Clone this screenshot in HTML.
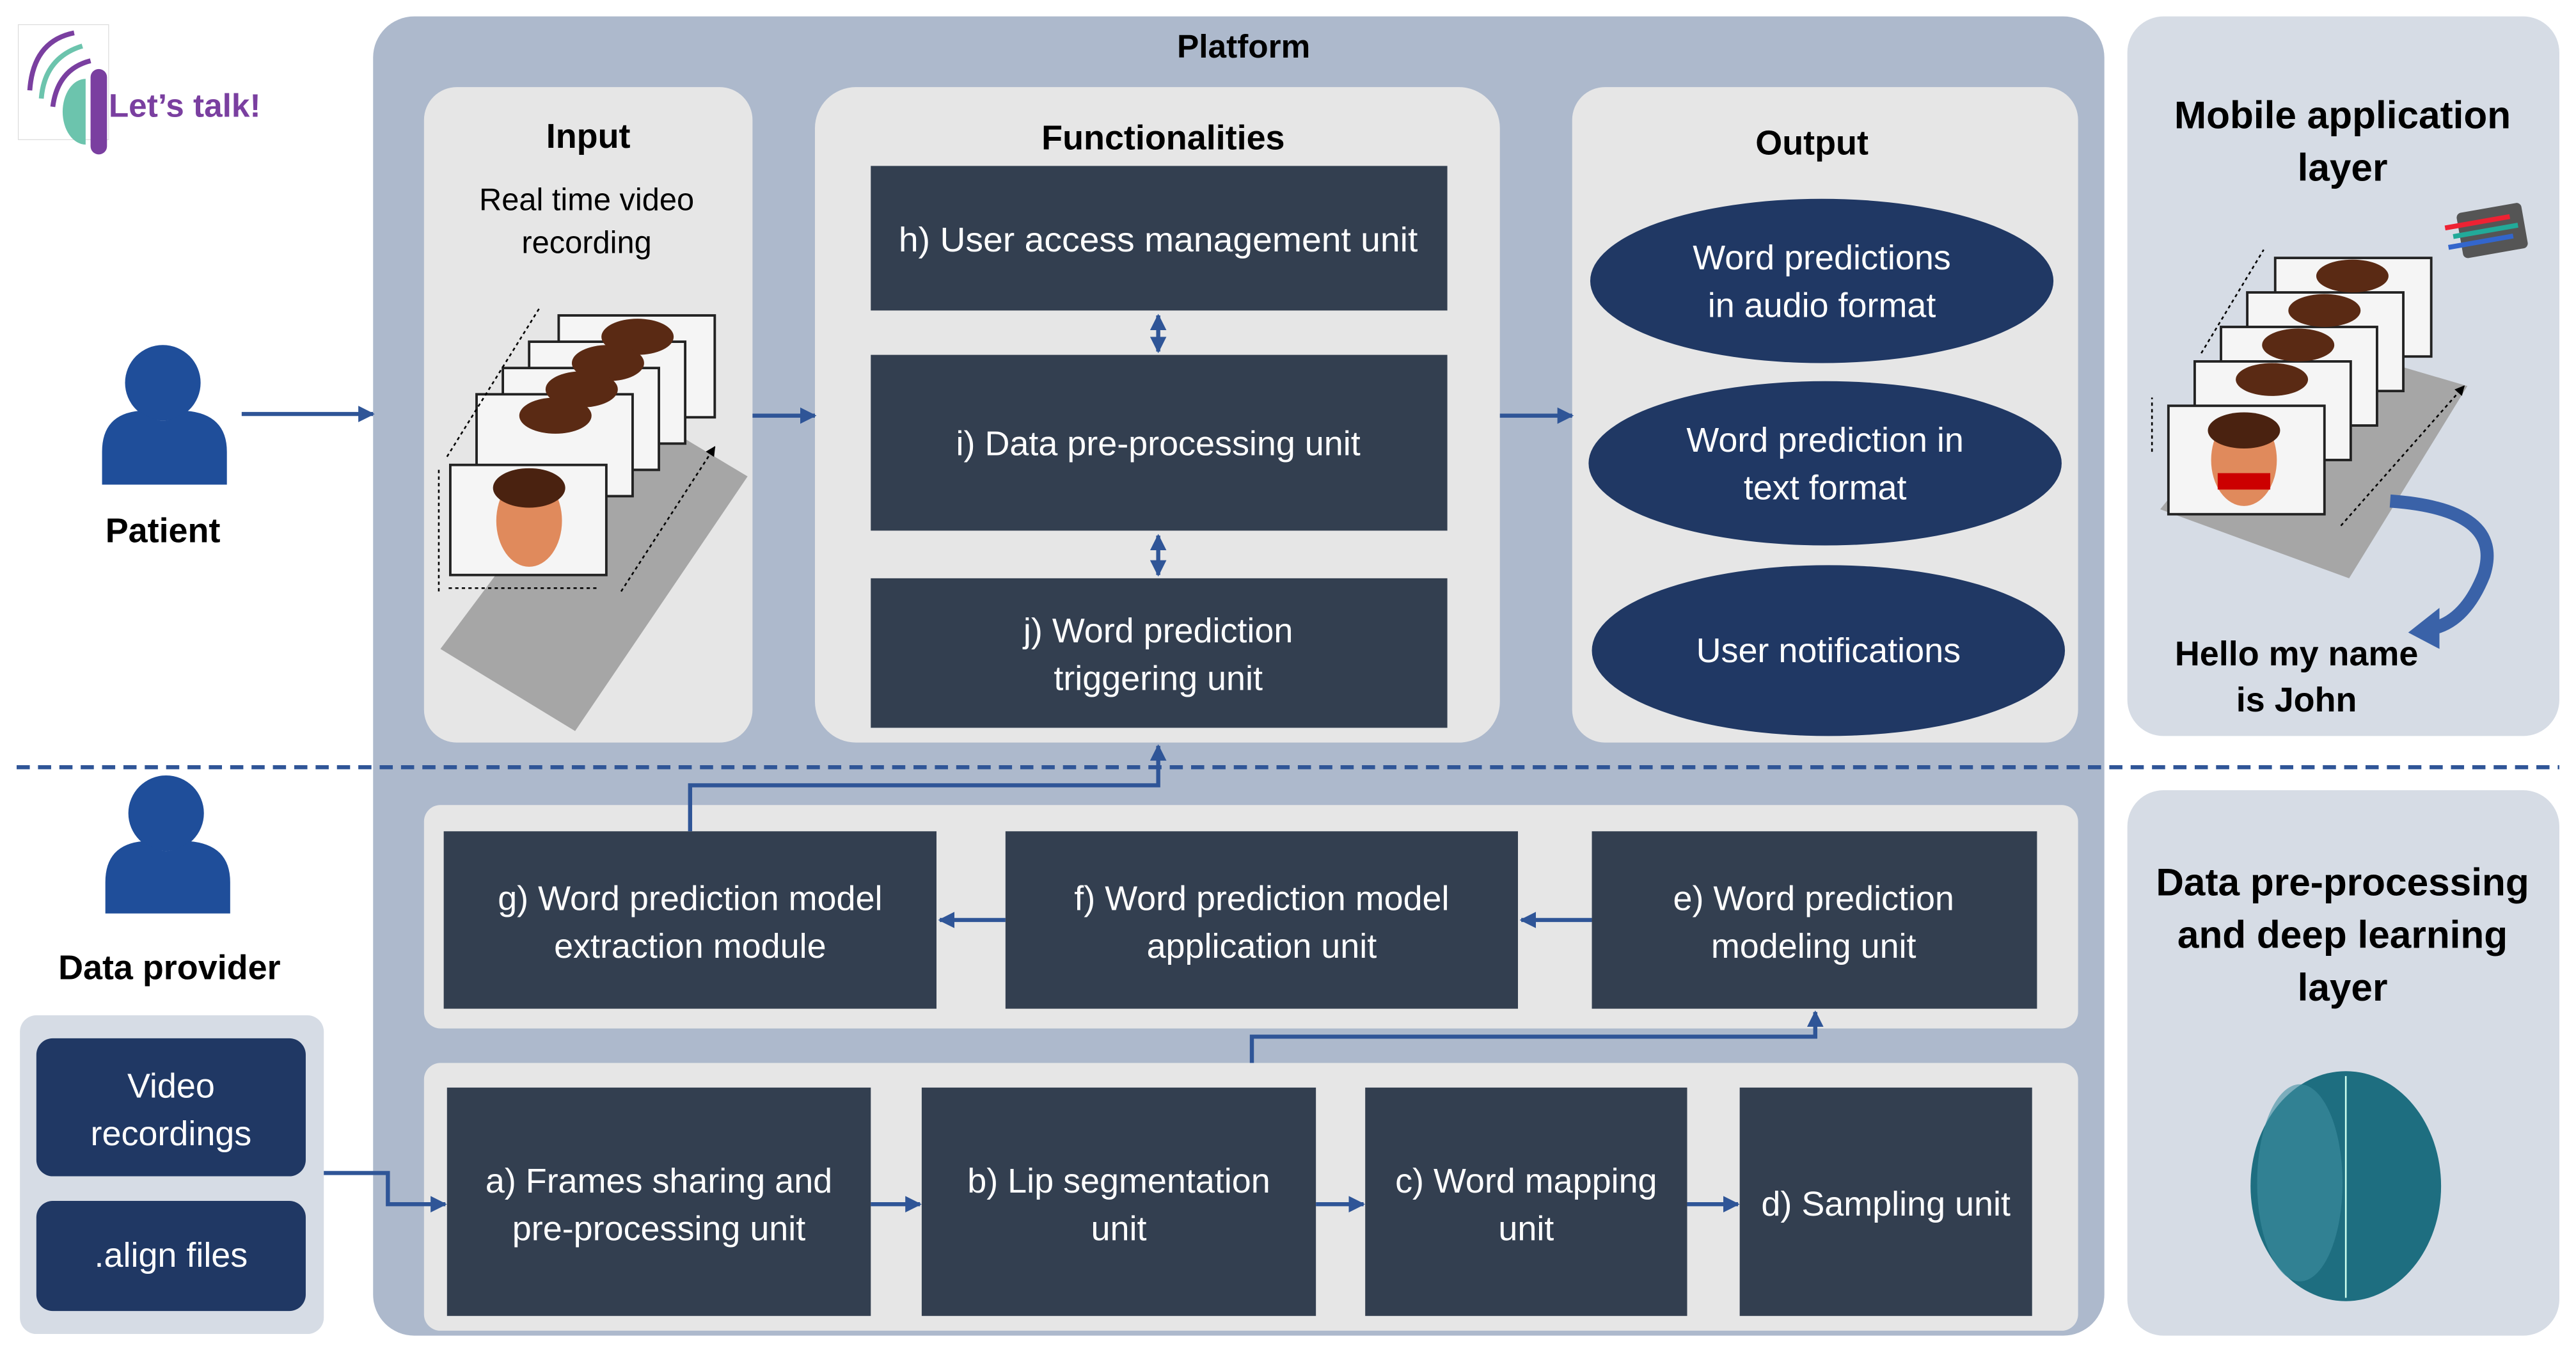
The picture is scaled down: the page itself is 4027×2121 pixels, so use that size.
<!DOCTYPE html>
<html><head><meta charset="utf-8"><style>
html,body{margin:0;padding:0;background:#fff;}
svg{display:block;}
text{font-family:"Liberation Sans",sans-serif;}
</style></head><body>
<svg width="4027" height="2121" viewBox="0 0 1568 826" xmlns="http://www.w3.org/2000/svg">
<defs>
<marker id="ah" viewBox="0 0 10 10" refX="9" refY="5" markerWidth="4" markerHeight="4" orient="auto-start-reverse"><path d="M0,0L10,5L0,10z" fill="#2f5597"/></marker>
<marker id="sa" viewBox="0 0 10 10" refX="9" refY="5" markerWidth="6" markerHeight="6" orient="auto"><path d="M0,0L10,5L0,10z" fill="#000"/></marker>
</defs>
<rect width="1568" height="826" fill="#fff"/>
<!-- logo -->
<rect x="11" y="15" width="55" height="70" fill="#fff" stroke="#ddd" stroke-width="0.5"/>
<path d="M18,55 Q20,25 45,20" stroke="#7a3fa0" stroke-width="3" fill="none"/>
<path d="M25,60 Q27,35 50,28" stroke="#6cc4ad" stroke-width="3" fill="none"/>
<path d="M32,65 Q35,42 55,37" stroke="#7a3fa0" stroke-width="3" fill="none"/>
<path d="M52,48 A14,20 0 0 0 52,88 Z" fill="#6cc4ad"/>
<rect x="55" y="42" width="10" height="52" rx="5" fill="#7a3fa0"/>
<text x="66" y="71" font-size="20" font-weight="bold" fill="#7a3fa0">Let’s talk!</text>
<!-- platform -->
<rect x="227" y="10" width="1054" height="803" rx="25" fill="#adb9cc"/>
<text x="757" y="35" font-size="20" font-weight="bold" text-anchor="middle">Platform</text>
<rect x="1295" y="10" width="263" height="438" rx="22" fill="#d6dce5"/>
<rect x="1295" y="481" width="263" height="332" rx="22" fill="#d6dce5"/>
<rect x="12" y="618" width="185" height="194" rx="10" fill="#d6dce5"/>
<!-- inner panels -->
<rect x="258" y="53" width="200" height="399" rx="20" fill="#e6e6e6"/>
<rect x="496" y="53" width="417" height="399" rx="25" fill="#e6e6e6"/>
<rect x="957" y="53" width="308" height="399" rx="20" fill="#e6e6e6"/>
<rect x="258" y="490" width="1007" height="136" rx="10" fill="#e6e6e6"/>
<rect x="258" y="647" width="1007" height="163" rx="10" fill="#e6e6e6"/>
<!-- titles -->
<text x="358" y="90" font-size="21" font-weight="bold" text-anchor="middle">Input</text>
<text x="357" y="128" font-size="19" text-anchor="middle">Real time video</text>
<text x="357" y="154" font-size="19" text-anchor="middle">recording</text>
<text x="708" y="91" font-size="21" font-weight="bold" text-anchor="middle">Functionalities</text>
<text x="1103" y="94" font-size="21" font-weight="bold" text-anchor="middle">Output</text>
<text x="1426" y="78" font-size="23.5" font-weight="bold" text-anchor="middle">Mobile application</text>
<text x="1426" y="110" font-size="23.5" font-weight="bold" text-anchor="middle">layer</text>
<text x="1426" y="545" font-size="23.5" font-weight="bold" text-anchor="middle">Data pre-processing</text>
<text x="1426" y="577" font-size="23.5" font-weight="bold" text-anchor="middle">and deep learning</text>
<text x="1426" y="609" font-size="23.5" font-weight="bold" text-anchor="middle">layer</text>
<text x="1398" y="405" font-size="21" font-weight="bold" text-anchor="middle">Hello my name</text>
<text x="1398" y="433" font-size="21" font-weight="bold" text-anchor="middle">is John</text>
<!-- persons -->
<circle cx="99" cy="233" r="23" fill="#1f4e9a"/>
<path d="M62,295 L62,275 Q62,252 85,250 Q99,262 113,250 Q138,252 138,275 L138,295 Z" fill="#1f4e9a"/>
<text x="99" y="330" font-size="21" font-weight="bold" text-anchor="middle">Patient</text>
<circle cx="101" cy="495" r="23" fill="#1f4e9a"/>
<path d="M64,556 L64,537 Q64,514 87,512 Q101,524 115,512 Q140,514 140,537 L140,556 Z" fill="#1f4e9a"/>
<text x="103" y="596" font-size="21" font-weight="bold" text-anchor="middle">Data provider</text>
<!-- input video stack -->
<polygon points="268,395 350,445 455,290 380,245" fill="#a6a6a6"/>
<g stroke="#222" stroke-width="1.5" fill="#f5f5f5">
<rect x="340" y="192" width="95" height="62"/><rect x="322" y="208" width="95" height="62"/>
<rect x="306" y="224" width="95" height="62"/><rect x="290" y="240" width="95" height="62"/>
<rect x="274" y="283" width="95" height="67"/></g>
<g fill="#5a2a14"><ellipse cx="388" cy="205" rx="22" ry="11"/><ellipse cx="370" cy="221" rx="22" ry="11"/><ellipse cx="354" cy="237" rx="22" ry="11"/><ellipse cx="338" cy="253" rx="22" ry="11"/></g>
<ellipse cx="322" cy="317" rx="20" ry="28" fill="#e08a5c"/><ellipse cx="322" cy="297" rx="22" ry="12" fill="#4a2210"/>
<path d="M267,360 V285 M273,358 H365 M272,278 L328,188 M378,360 L435,272" stroke="#000" stroke-dasharray="2,2" fill="none" marker-end="url(#sa)"/>
<!-- mobile stack -->
<polygon points="1315,310 1430,352 1502,235 1400,205" fill="#a6a6a6"/>
<g stroke="#222" stroke-width="1.5" fill="#f5f5f5">
<rect x="1385" y="157" width="95" height="60"/><rect x="1368" y="178" width="95" height="60"/>
<rect x="1352" y="199" width="95" height="60"/><rect x="1336" y="220" width="95" height="60"/>
<rect x="1320" y="247" width="95" height="66"/></g>
<g fill="#5a2a14"><ellipse cx="1432" cy="168" rx="22" ry="10"/><ellipse cx="1415" cy="189" rx="22" ry="10"/><ellipse cx="1399" cy="210" rx="22" ry="10"/><ellipse cx="1383" cy="231" rx="22" ry="10"/></g>
<ellipse cx="1366" cy="280" rx="20" ry="28" fill="#e08a5c"/><ellipse cx="1366" cy="262" rx="22" ry="11" fill="#4a2210"/>
<rect x="1350" y="288" width="32" height="10" fill="#c00"/>
<path d="M1310,275 V242 M1340,215 L1378,152 M1425,320 L1500,235" stroke="#000" stroke-dasharray="2,2" fill="none" marker-end="url(#sa)"/>
<path d="M1455,305 Q1525,310 1512,350 Q1500,380 1478,383" stroke="#3a62a8" stroke-width="8" fill="none"/>
<polygon points="1466,385 1485,370 1485,395" fill="#3a62a8"/>
<g transform="translate(1495,130) rotate(-10)"><rect x="0" y="0" width="40" height="28" rx="3" fill="#555"/><rect x="-8" y="6" width="40" height="3" fill="#e23"/><rect x="-4" y="12" width="40" height="3" fill="#2a9"/><rect x="-8" y="18" width="40" height="3" fill="#36c"/></g>
<!-- brain -->
<ellipse cx="1428" cy="722" rx="58" ry="70" fill="#1e6e80"/>
<ellipse cx="1400" cy="720" rx="26" ry="60" fill="#3d8ea0" opacity="0.6"/>
<line x1="1428" y1="655" x2="1428" y2="790" stroke="#cfe" stroke-width="1"/>
<!-- dashed line -->
<line x1="10" y1="467" x2="1558" y2="467" stroke="#2f5597" stroke-width="2.5" stroke-dasharray="8,5"/>
<!-- dark boxes -->
<g fill="#333f50">
<rect x="530" y="101" width="351" height="88"/><rect x="530" y="216" width="351" height="107"/><rect x="530" y="352" width="351" height="91"/>
<rect x="270" y="506" width="300" height="108"/><rect x="612" y="506" width="312" height="108"/><rect x="969" y="506" width="271" height="108"/>
<rect x="272" y="662" width="258" height="139"/><rect x="561" y="662" width="240" height="139"/><rect x="831" y="662" width="196" height="139"/><rect x="1059" y="662" width="178" height="139"/>
</g>
<g fill="#203864">
<ellipse cx="1109" cy="171" rx="141" ry="50"/><ellipse cx="1111" cy="282" rx="144" ry="50"/><ellipse cx="1113" cy="396" rx="144" ry="52"/>
<rect x="22" y="632" width="164" height="84" rx="10"/><rect x="22" y="731" width="164" height="67" rx="10"/>
</g>
<g fill="#fff" font-size="21" text-anchor="middle">
<text x="705" y="153" textLength="316" lengthAdjust="spacingAndGlyphs">h) User access management unit</text>
<text x="705" y="277">i) Data pre-processing unit</text>
<text x="705" y="391">j) Word prediction</text><text x="705" y="420">triggering unit</text>
<text x="420" y="554">g) Word prediction model</text><text x="420" y="583">extraction module</text>
<text x="768" y="554">f) Word prediction model</text><text x="768" y="583">application unit</text>
<text x="1104" y="554">e) Word prediction</text><text x="1104" y="583">modeling unit</text>
<text x="401" y="726">a) Frames sharing and</text><text x="401" y="755">pre-processing unit</text>
<text x="681" y="726">b) Lip segmentation</text><text x="681" y="755">unit</text>
<text x="929" y="726">c) Word mapping</text><text x="929" y="755">unit</text>
<text x="1148" y="740">d) Sampling unit</text>
<text x="1109" y="164">Word predictions</text><text x="1109" y="193">in audio format</text>
<text x="1111" y="275">Word prediction in</text><text x="1111" y="304">text format</text>
<text x="1113" y="403">User notifications</text>
<text x="104" y="668">Video</text><text x="104" y="697">recordings</text>
<text x="104" y="771">.align files</text>
</g>
<!-- connectors -->
<g stroke="#2f5597" stroke-width="2.5" fill="none" marker-end="url(#ah)">
<line x1="147" y1="252" x2="227" y2="252"/>
<line x1="458" y1="253" x2="496" y2="253"/>
<line x1="913" y1="253" x2="957" y2="253"/>
<line x1="705" y1="192" x2="705" y2="214" marker-start="url(#ah)"/>
<line x1="705" y1="326" x2="705" y2="350" marker-start="url(#ah)"/>
<polyline points="420,506 420,478 705,478 705,454"/>
<line x1="969" y1="560" x2="926" y2="560"/>
<line x1="612" y1="560" x2="572" y2="560"/>
<polyline points="762,647 762,631 1105,631 1105,616"/>
<polyline points="197,714 236,714 236,733 271,733"/>
<line x1="530" y1="733" x2="560" y2="733"/>
<line x1="801" y1="733" x2="830" y2="733"/>
<line x1="1027" y1="733" x2="1058" y2="733"/>
</g>
</svg>
</body></html>
